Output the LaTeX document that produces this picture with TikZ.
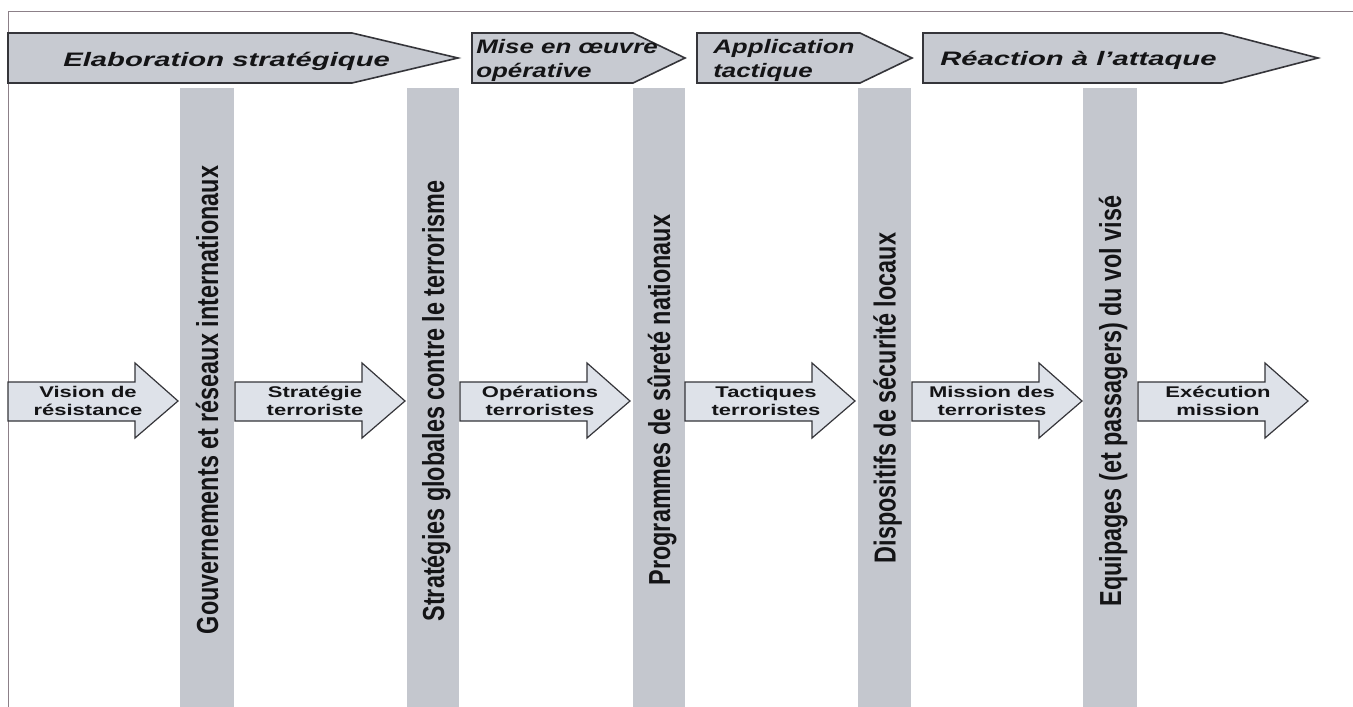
\documentclass[tikz,border=0pt]{standalone}
\usepackage{fontspec}
\setmainfont{Liberation Sans}
\definecolor{bannerfill}{HTML}{C7CAD1}
\definecolor{barfill}{HTML}{C4C7CE}
\definecolor{arrowfill}{HTML}{DEE2E9}
\definecolor{edge}{HTML}{35353A}
\definecolor{framec}{HTML}{8C8088}
\definecolor{ink}{HTML}{141416}
\begin{document}
\begin{tikzpicture}[x=1pt,y=-1pt,
  banner/.style={fill=bannerfill,draw=edge,line width=1.6pt,line join=miter},
  harrow/.style={fill=arrowfill,draw=edge,line width=1.2pt,line join=miter},
  bar/.style={fill=barfill},
  btext/.style={transform shape,xscale=1.5,text=ink,inner sep=0pt,
    font=\bfseries\itshape\fontsize{19.5}{24}\selectfont},
  btextb/.style={transform shape,xscale=1.33,text=ink,inner sep=0pt,align=left,
    font=\bfseries\itshape\fontsize{19.5}{24}\selectfont},
  htext/.style={transform shape,xscale=1.42,text=ink,inner sep=0pt,align=center,
    font=\bfseries\fontsize{15.5}{18}\selectfont},
  vtext/.style={transform shape,rotate=90,yscale=1.3,text=ink,inner sep=0pt,anchor=base,
    font=\bfseries\fontsize{23.4}{28}\selectfont}]
\useasboundingbox (0,0) rectangle (1353,707);
\fill[white] (0,0) rectangle (1353,707);
% frame
\draw[framec,line width=1pt] (8,707) -- (8,11) -- (1353,11);
% banners
\draw[banner] (8,33) -- (352,33) -- (458,58) -- (352,83) -- (8,83) -- cycle;
\draw[banner] (472,33) -- (633,33) -- (685,58) -- (633,83) -- (472,83) -- cycle;
\draw[banner] (697,33) -- (860,33) -- (912,58) -- (860,83) -- (697,83) -- cycle;
\draw[banner] (923,33) -- (1222,33) -- (1318,58) -- (1222,83) -- (923,83) -- cycle;
\node[btext,anchor=base west] (p1) at (63,66) {Elaboration stratégique};
\node[btextb,anchor=west] (p2) at (476,60) {Mise en œuvre\\opérative};
\node[btextb,anchor=west] (p3) at (713,60) {Application\\tactique};
\node[btext,anchor=base west] (p4) at (940,65) {Réaction à l’attaque};
% bars
\fill[bar] (180,88) rectangle (234,707);
\fill[bar] (407,88) rectangle (459,707);
\fill[bar] (633,88) rectangle (685,707);
\fill[bar] (858,88) rectangle (911,707);
\fill[bar] (1083,88) rectangle (1137,707);
\node[vtext] (v1) at (218,400) {Gouvernements et réseaux internationaux};
\node[vtext] (v2) at (444,401) {Stratégies globales contre le terrorisme};
\node[vtext] (v3) at (670,400) {Programmes de sûreté nationaux};
\node[vtext] (v4) at (895.5,398) {Dispositifs de sécurité locaux};
\node[vtext] (v5) at (1121,401) {Equipages (et passagers) du vol visé};
% horizontal arrows
\foreach \s in {8,235,460,685,912,1138}{
  \draw[harrow] (\s,382) -- (\s+127,382) -- (\s+127,363) -- (\s+170,401)
     -- (\s+127,438) -- (\s+127,421) -- (\s,421) -- cycle;
}
\node[htext] (h1) at (88,401) {Vision de\\résistance};
\node[htext] (h2) at (315,401) {Stratégie\\terroriste};
\node[htext] (h3) at (540,401) {Opérations\\terroristes};
\node[htext] (h4) at (766,401) {Tactiques\\terroristes};
\node[htext] (h5) at (992,401) {Mission des\\terroristes};
\node[htext] (h6) at (1218,401) {Exécution\\mission};
\end{tikzpicture}
\end{document}
